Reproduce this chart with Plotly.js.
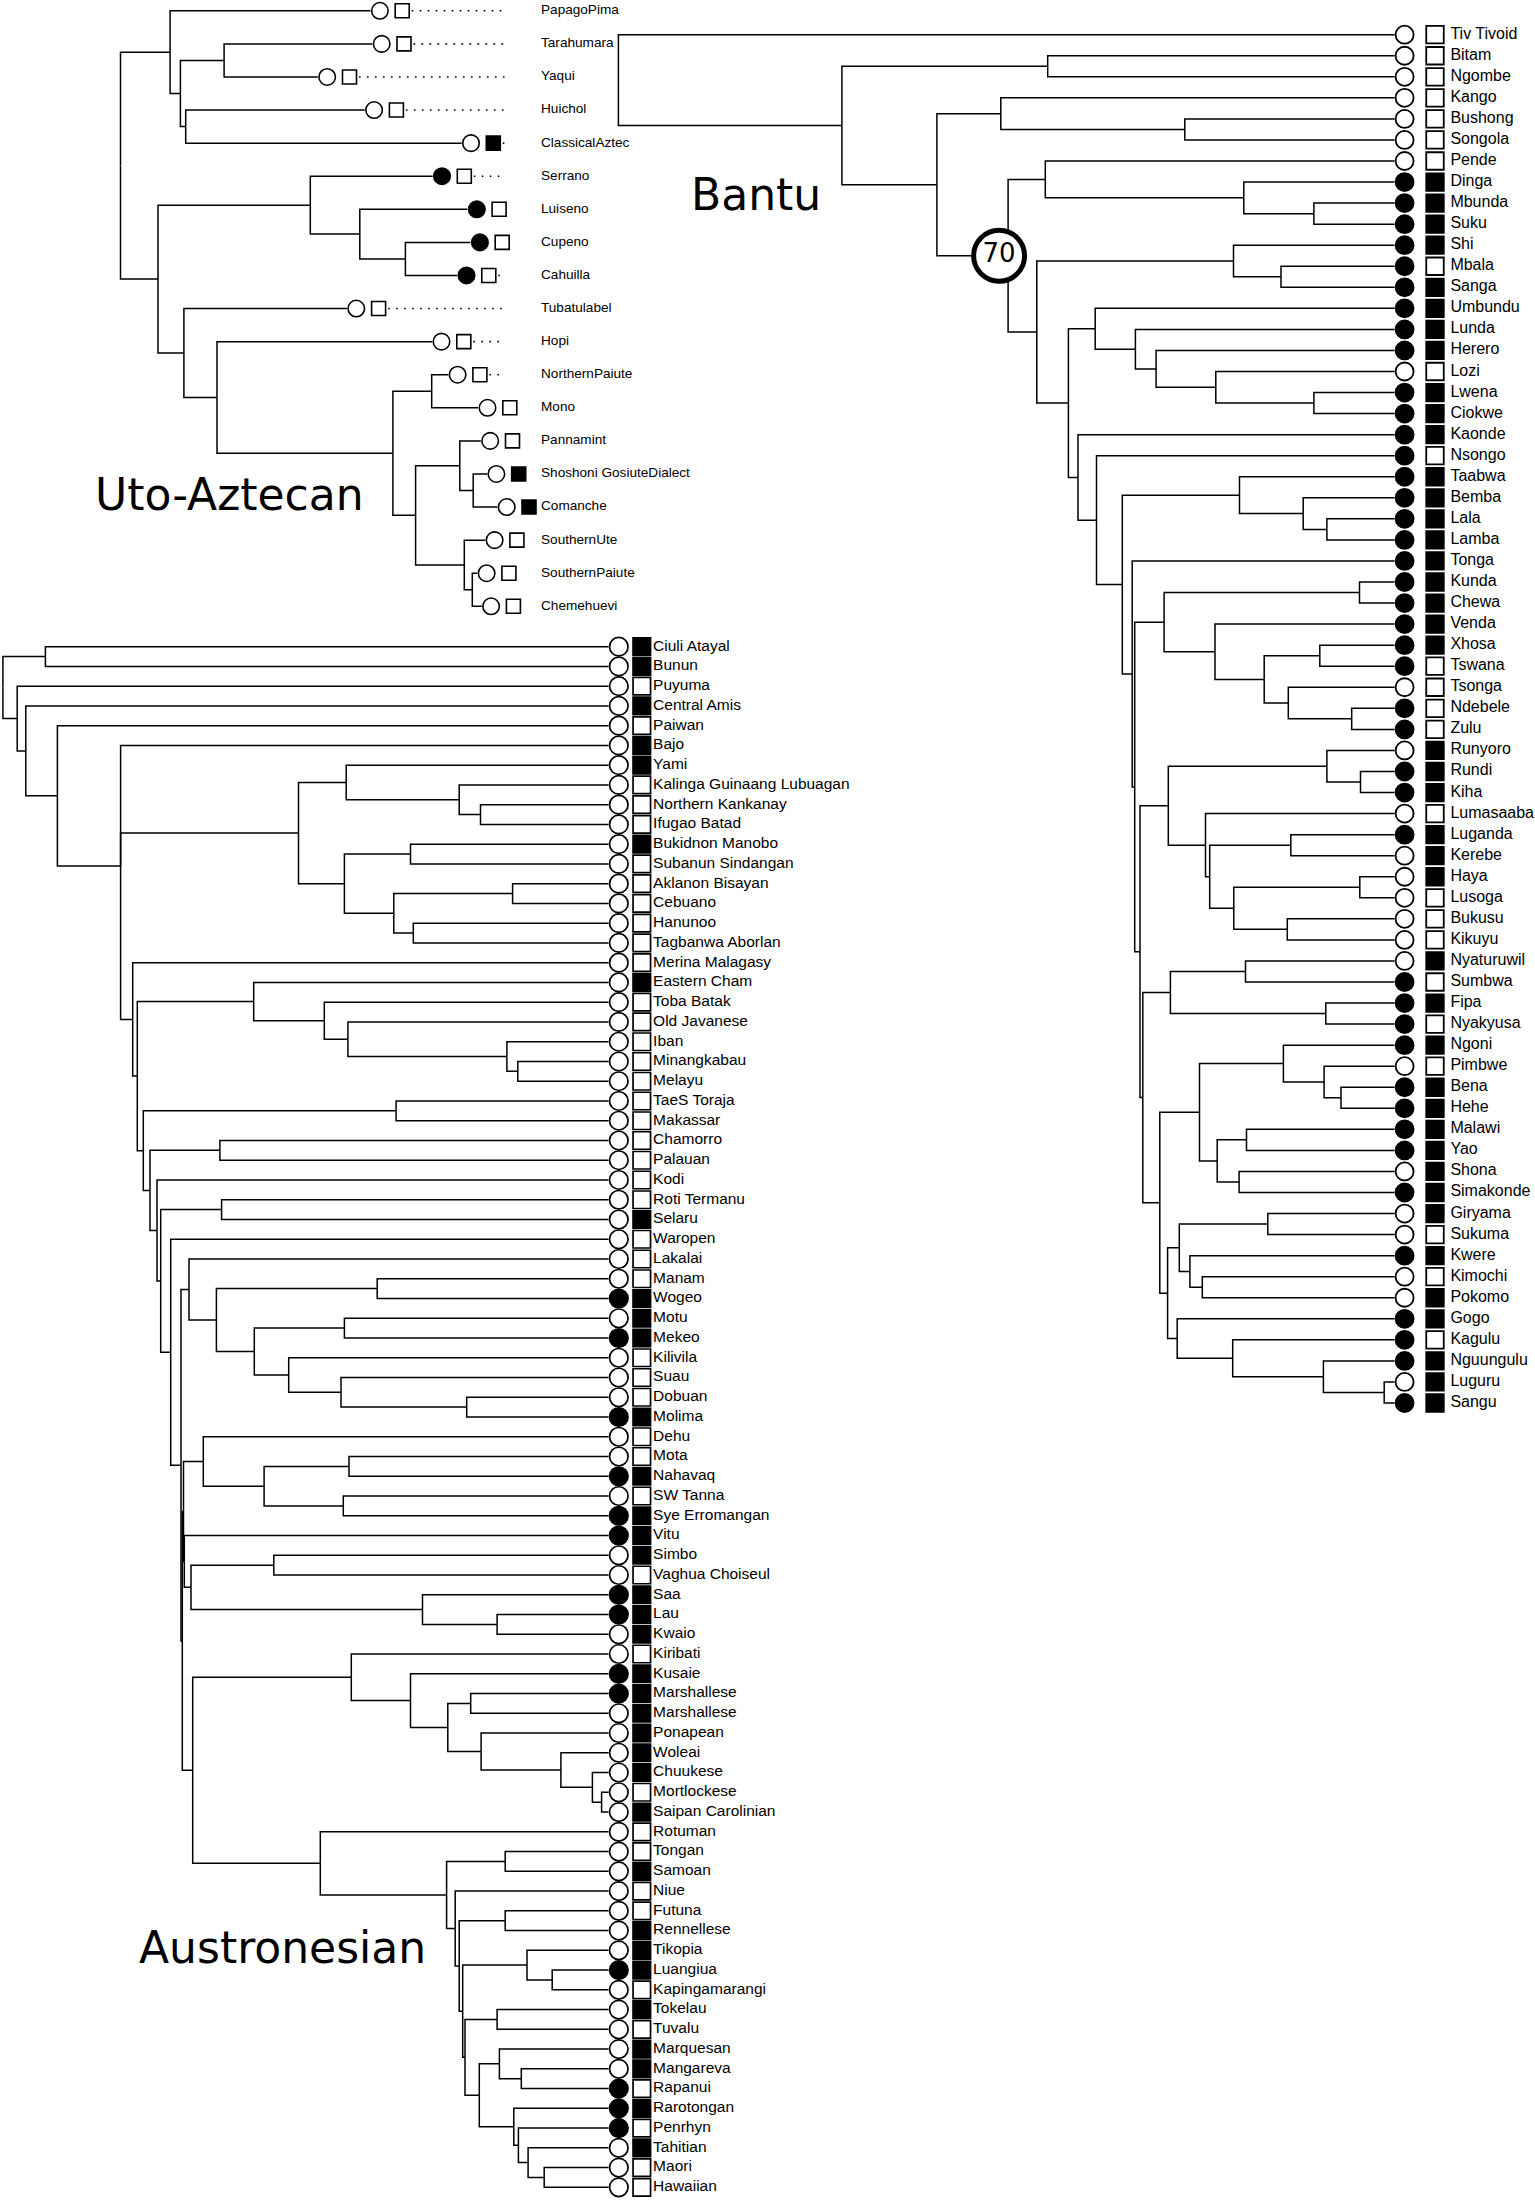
<!DOCTYPE html>
<html><head><meta charset="utf-8">
<script src="https://cdn.plot.ly/plotly-3.0.1.min.js"></script>
<style>html,body{margin:0;padding:0;background:#fff}</style>
</head><body><div id="chart" style="width:1535px;height:2200px"></div>
<script>
// ================= DATA =================
// Internal node = [depth, child, child, ...]; leaf = index into the names array.
// Depth = distance from the root of that tree (pixel-like units of the original plot).

// ---- Uto-Aztecan ----
const utoNames = ["PapagoPima","Tarahumara","Yaqui","Huichol","ClassicalAztec","Serrano","Luiseno","Cupeno","Cahuilla","Tubatulabel","Hopi","NorthernPaiute","Mono","Pannamint","Shoshoni GosiuteDialect","Comanche","SouthernUte","SouthernPaiute","Chemehuevi"];
const utoCircle = [0,0,0,0,0,1,1,1,1,0,0,0,0,0,0,0,0,0,0];
const utoSquare = [0,0,0,0,1,0,0,0,0,0,0,0,0,0,1,1,0,0,0];
const utoTipDepth = [250,251.8,197.3,244.2,341.1,312.1,346.9,350,336.6,226.4,311.6,327.7,357.6,360.3,366.5,376.8,364.7,356.7,361.2];
const utoTree = [0,
  [49.6, 0, [59.9, [103.6, 1, 2], [65.2, 3, 4]]],
  [37.5,
    [189.8, 5, [239.3, 6, [284.9, 7, 8]]],
    [63.4, 9, [96.5, 10, [272.4, [311.2, 11, 12], [295.1, [339.3, 13, [352.7, 14, 15]], [343.8, 16, [351.8, 17, 18]]]]]]
  ]
];

// ---- Bantu ----
const bantuNames = ["Tiv Tivoid","Bitam","Ngombe","Kango","Bushong","Songola","Pende","Dinga","Mbunda","Suku","Shi","Mbala","Sanga","Umbundu","Lunda","Herero","Lozi","Lwena","Ciokwe","Kaonde","Nsongo","Taabwa","Bemba","Lala","Lamba","Tonga","Kunda","Chewa","Venda","Xhosa","Tswana","Tsonga","Ndebele","Zulu","Runyoro","Rundi","Kiha","Lumasaaba","Luganda","Kerebe","Haya","Lusoga","Bukusu","Kikuyu","Nyaturuwil","Sumbwa","Fipa","Nyakyusa","Ngoni","Pimbwe","Bena","Hehe","Malawi","Yao","Shona","Simakonde","Giryama","Sukuma","Kwere","Kimochi","Pokomo","Gogo","Kagulu","Nguungulu","Luguru","Sangu"];
const bantuCircle = [0,0,0,0,0,0,0, 1,1,1,1,1,1,1,1,1, 0, 1,1,1,1,1,1,1,1,1,1,1,1,1,1, 0, 1,1, 0, 1,1, 0, 1, 0,0,0,0,0,0, 1,1,1,1, 0, 1,1,1,1, 0, 1, 0,0, 1, 0,0, 1,1,1, 0, 1];
const bantuSquare = [0,0,0,0,0,0,0, 1,1,1,1, 0, 1,1,1,1, 0, 1,1,1, 0, 1,1,1,1,1,1,1,1,1, 0,0,0,0, 1,1,1, 0, 1,1,1, 0,0,0, 1, 0, 1, 0, 1, 0, 1,1,1,1,1,1,1, 0, 1, 0, 1, 1, 0, 1,1,1];
const bantuTipDepth = 776.2;
const bantuNodeLabels = ["70"];
const bantuNodeLabelDepths = [389.7];
const bantuTree = [0, 0,
  [223.5, [429.3, 1, 2],
    [318.5,
      [382.4, 3, [566.4, 4, 5]],
      [389.7,
        [426.9, 6, [625.4, 7, [695.5, 8, 9]]],
        [418.4,
          [615.1, 10, [662.6, 11, 12]],
          [450,
            [476.8, 13, [517, 14, [537.7, 15, [597.4, 16, [695.5, 17, 18]]]]],
            [459.6, 19,
              [478.1, 20,
                [503.9,
                  [621.1, 21, [684.8, 22, [708.5, 23, 24]]],
                  [513.8, 25,
                    [516.3,
                      [545.7, [741.1, 26, 27], [596.6, 28, [645.8, [701.4, 29, 30], [669.9, 31, [733.3, 32, 33]]]]],
                      [521.6,
                        [549.9, [708.5, 34, [742.1, 35, 36]], [587.1, 37, [591.3, [672.4, 38, 39], [615.4, [741.4, 40, 41], [668.9, 42, 43]]]]],
                        [524.4,
                          [552, [627.1, 44, 45], [707.4, 46, 47]],
                          [541.4,
                            [581.1, [665, 48, [705.7, 49, [722.6, 50, 51]]], [598.8, [628.1, 52, 53], [620.7, 54, 55]]],
                            [549.2,
                              [560.9, [649.4, 56, 57], [571.5, 58, [583.9, 59, 60]]],
                              [558.8, 61, [614.3, 62, [705, 63, [765.8, 64, 65]]]]
                            ]
                          ]
                        ]
                      ]
                    ]
                  ]
                ]
              ]
            ]
          ]
        ]
      ]
    ]
  ]
];

// ---- Austronesian ----
const ausNames = ["Ciuli Atayal","Bunun","Puyuma","Central Amis","Paiwan","Bajo","Yami","Kalinga Guinaang Lubuagan","Northern Kankanay","Ifugao Batad","Bukidnon Manobo","Subanun Sindangan","Aklanon Bisayan","Cebuano","Hanunoo","Tagbanwa Aborlan","Merina Malagasy","Eastern Cham","Toba Batak","Old Javanese","Iban","Minangkabau","Melayu","TaeS Toraja","Makassar","Chamorro","Palauan","Kodi","Roti Termanu","Selaru","Waropen","Lakalai","Manam","Wogeo","Motu","Mekeo","Kilivila","Suau","Dobuan","Molima","Dehu","Mota","Nahavaq","SW Tanna","Sye Erromangan","Vitu","Simbo","Vaghua Choiseul","Saa","Lau","Kwaio","Kiribati","Kusaie","Marshallese","Marshallese","Ponapean","Woleai","Chuukese","Mortlockese","Saipan Carolinian","Rotuman","Tongan","Samoan","Niue","Futuna","Rennellese","Tikopia","Luangiua","Kapingamarangi","Tokelau","Tuvalu","Marquesan","Mangareva","Rapanui","Rarotongan","Penrhyn","Tahitian","Maori","Hawaiian"];
const ausCircleFilled = [33,35,39,42,44,45,48,49,52,53,67,73,74,75];
const ausSquareFilled = [0,1,3,5,6,10,17,29,33,34,35,39,42,44,45,46,48,49,50,52,53,54,55,56,57,59,62,65,66,67,69,71,72,74,76];
const ausTipDepth = 605.6;
const ausTree = [0,
  [42.5, 0, 1],
  [14.3, 2,
    [22.9, 3,
      [54.5, 4,
        [117.7, 5,
          [295.6,
            [343.3, 6, [456.3, 7, [477.6, 8, 9]]],
            [341.5, [407.6, 10, 11], [390.9, [509.7, 12, 13], [410.4, 14, 15]]]
          ],
          [129.8, 16,
            [134.4,
              [250.8, 17, [321.4, 18, [345, 19, [504, 20, [514.9, 21, 22]]]]],
              [140.4, [393.2, 23, 24],
                [147.1, [217, 25, 26],
                  [154.1, 27,
                    [157.8, [218.7, 28, 29],
                      [167.8, 30,
                        [178.1,
                          [186.1, 31, [213.5, [374.3, 32, 33], [251.4, [341.5, 34, 35], [285.8, 36, [338.1, 37, [463.8, 38, 39]]]]]],
                          [179.4,
                            [180.6,
                              [200.4, 40, [261.2, [346.1, 41, 42], [340.4, 43, 44]]],
                              [181.4, 45, [188.1, [270.9, 46, 47], [419.6, 48, [494.2, 49, 50]]]]
                            ],
                            [189.8,
                              [348.4, 51, [407.6, 52, [444.9, [467.8, 53, 54], [478.2, 55, [558, 56, [589.5, 57, [598.7, 58, 59]]]]]]],
                              [317.4, 60,
                                [443.7, [502.3, 61, 62],
                                  [452.3, 63,
                                    [456.3, [502.3, 64, 65],
                                      [459.8, [524.1, 66, [549.3, 67, 68]],
                                        [462.1, [494.2, 69, 70],
                                          [476.4, [496.5, 71, [518.4, 72, 73]],
                                            [510.9, 74, [515.5, 75, [525.2, 76, [541.3, 77, 78]]]]
                                          ]
                                        ]
                                      ]
                                    ]
                                  ]
                                ]
                              ]
                            ]
                          ]
                        ]
                      ]
                    ]
                  ]
                ]
              ]
            ]
          ]
        ]
      ]
    ]
  ]
];

const groupLabels = ["Uto-Aztecan", "Bantu", "Austronesian"];

// ================= LAYOUT CONSTANTS =================
const W = 1535, H = 2200;
const LW = 1.5;
const utoGeom = {root: 120.5, y0: 10.8, y1: 606.3, dotEnd: 384, labelX: 420.5, circOff: 9.4, sqOff: 31.7};
const bantuGeom = {root: 618.4, y0: 34.7, y1: 1403, circOff: 10, sqOff: 40.4, labelOff: 55.8};
const ausGeom = {root: 2.9, y0: 646.7, y1: 2187.3, circOff: 10.3, sqOff: 33.3, labelOff: 44.6};

// ================= HELPERS =================
function layoutTree(tree, tipDepth) {
  const lx = [], ly = [], nodes = [];
  function walk(node) {
    if (typeof node === 'number') return {x: tipDepth(node), y: node};
    const d = node[0];
    const kids = node.slice(1).map(walk);
    const y = kids.reduce((s, k) => s + k.y, 0) / kids.length;
    kids.forEach(k => { lx.push(k.x, d, d, null); ly.push(k.y, k.y, y, null); });
    nodes.push({x: d, y: y});
    return {x: d, y: y};
  }
  walk(tree);
  return {lx, ly, nodes};
}
function axisPair(k, g, n) {
  const s = (g.y1 - g.y0) / (n - 1);
  const top = -g.y0 / s, bot = (H - g.y0) / s;
  const common = {visible: false, showgrid: false, zeroline: false, fixedrange: true, domain: [0, 1]};
  const xs = k === 1 ? '' : String(k);
  const o = {};
  o['xaxis' + xs] = Object.assign({}, common, {range: [-g.root, W - g.root], anchor: 'y' + xs});
  o['yaxis' + xs] = Object.assign({}, common, {range: [bot, top], anchor: 'x' + xs});
  return o;
}
const idx = n => Array.from({length: n}, (_, i) => i);
const fill = v => v ? 'black' : 'white';

const traces = [];
function lineTrace(t, ax) {
  traces.push({type: 'scatter', mode: 'lines', x: t.lx, y: t.ly, xaxis: ax[0], yaxis: ax[1],
    line: {color: 'black', width: LW}, hoverinfo: 'skip', cliponaxis: false});
}
function markerTrace(xs, ys, colors, symbol, size, lw, ax) {
  traces.push({type: 'scatter', mode: 'markers', x: xs, y: ys, xaxis: ax[0], yaxis: ax[1],
    marker: {symbol: symbol, size: size, color: colors, line: {color: 'black', width: lw}},
    hoverinfo: 'skip', cliponaxis: false});
}
function textTrace(xs, ys, texts, size, ax) {
  traces.push({type: 'scatter', mode: 'text', x: xs, y: ys, text: texts, xaxis: ax[0], yaxis: ax[1],
    textposition: 'middle right', textfont: {family: 'Liberation Sans, Arial, sans-serif', size: size, color: 'black'},
    hoverinfo: 'skip', cliponaxis: false});
}

// ---------- Uto-Aztecan ----------
{
  const ax = ['x', 'y'];
  const n = utoNames.length, ii = idx(n);
  const t = layoutTree(utoTree, i => utoTipDepth[i]);
  lineTrace(t, ax);
  // dotted guides
  const dx = [], dy = [];
  ii.forEach(i => {
    const s = utoTipDepth[i] + utoGeom.sqOff + 9.5;
    if (s < utoGeom.dotEnd) { dx.push(s, utoGeom.dotEnd, null); dy.push(i, i, null); }
  });
  traces.push({type: 'scatter', mode: 'lines', x: dx, y: dy, xaxis: 'x', yaxis: 'y',
    line: {color: 'black', width: 1.6, dash: '1.6px,6.4px'}, hoverinfo: 'skip'});
  markerTrace(ii.map(i => utoTipDepth[i] + utoGeom.circOff), ii, utoCircle.map(fill), 'circle', 16.5, 1.6, ax);
  markerTrace(ii.map(i => utoTipDepth[i] + utoGeom.sqOff), ii, utoSquare.map(fill), 'square', 14, 1.6, ax);
  textTrace(ii.map(() => utoGeom.labelX), ii, utoNames, 13.6, ax);
}
// ---------- Bantu ----------
{
  const ax = ['x2', 'y2'];
  const n = bantuNames.length, ii = idx(n);
  const t = layoutTree(bantuTree, () => bantuTipDepth);
  lineTrace(t, ax);
  markerTrace(ii.map(() => bantuTipDepth + bantuGeom.circOff), ii, bantuCircle.map(fill), 'circle', 18, 1.8, ax);
  markerTrace(ii.map(() => bantuTipDepth + bantuGeom.sqOff), ii, bantuSquare.map(fill), 'square', 17.5, 1.8, ax);
  textTrace(ii.map(() => bantuTipDepth + bantuGeom.labelOff), ii, bantuNames, 16, ax);
  // labelled node
  bantuNodeLabels.forEach((lab, j) => {
    const nd = t.nodes.find(p => p.x === bantuNodeLabelDepths[j]);
    traces.push({type: 'scatter', mode: 'markers+text', x: [nd.x - 9], y: [nd.y], text: [lab], xaxis: 'x2', yaxis: 'y2',
      textposition: 'middle center', textfont: {family: 'DejaVu Sans', size: 26, color: 'black'},
      marker: {symbol: 'circle', size: 51, color: 'white', line: {color: 'black', width: 5}},
      hoverinfo: 'skip', cliponaxis: false});
  });
}
// ---------- Austronesian ----------
{
  const ax = ['x3', 'y3'];
  const n = ausNames.length, ii = idx(n);
  const t = layoutTree(ausTree, () => ausTipDepth);
  lineTrace(t, ax);
  markerTrace(ii.map(() => ausTipDepth + ausGeom.circOff), ii, ii.map(i => fill(ausCircleFilled.includes(i))), 'circle', 18.5, 1.7, ax);
  markerTrace(ii.map(() => ausTipDepth + ausGeom.sqOff), ii, ii.map(i => fill(ausSquareFilled.includes(i))), 'square', 17.5, 1.7, ax);
  textTrace(ii.map(() => ausTipDepth + ausGeom.labelOff), ii, ausNames, 15.5, ax);
}

const groupPos = [[93, 495], [689, 195], [137, 1947.5]];
const layout = Object.assign({
  width: W, height: H,
  margin: {l: 0, r: 0, t: 0, b: 0, pad: 0},
  paper_bgcolor: 'white', plot_bgcolor: 'rgba(0,0,0,0)',
  showlegend: false,
  annotations: groupLabels.map((g, i) => ({
    text: g, xref: 'paper', yref: 'paper', x: groupPos[i][0] / W, y: 1 - groupPos[i][1] / H,
    xanchor: 'left', yanchor: 'middle', showarrow: false,
    font: {family: 'DejaVu Sans', size: 44, color: 'black'}
  }))
}, axisPair(1, utoGeom, utoNames.length), axisPair(2, bantuGeom, bantuNames.length), axisPair(3, ausGeom, ausNames.length));

Plotly.newPlot('chart', traces, layout, {displayModeBar: false, staticPlot: true});
</script>
</body></html>
